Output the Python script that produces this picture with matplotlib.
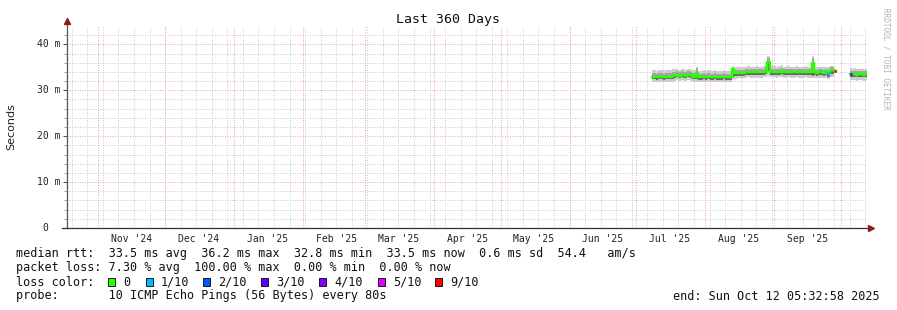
import matplotlib
matplotlib.use("Agg")
import matplotlib.pyplot as plt
import matplotlib.dates as mdates
import matplotlib.transforms as mtransforms
from matplotlib.patches import Rectangle
from matplotlib.lines import Line2D
import numpy as np
import pandas as pd

# ---------------- data (daily, starting 2025-07-08) ----------------
first_day = "2025-07-08"
median_ms = [
    # Jul 8-31
    33.0, 33.0, 32.9, 33.0, 33.0, 32.9, 33.0, 33.0, 33.0, 33.1, 33.3, 33.4, 33.2, 33.4, 33.3, 33.2,
    33.4, 33.3, 33.0, 33.0, 33.8, 32.9, 32.9, 33.0,
    # Aug
    32.9, 33.0, 32.9, 32.9, 33.0, 32.9, 32.9, 32.9, 33.0, 32.9, 32.9, 32.8, 34.6, 33.7, 33.7, 33.8,
    33.7, 33.8, 33.9, 34.0, 33.9, 33.9, 33.9, 34.0, 33.9, 33.9, 34.0, 34.3, 36.2, 34.0, 34.0,
    # Sep
    34.0, 33.9, 34.0, 34.2, 33.9, 33.9, 34.0, 33.9, 33.9, 33.9, 34.0, 33.9, 33.9, 33.9, 34.0, 33.9,
    33.9, 35.9, 33.9, 33.8, 33.9, 33.9, 33.8, 33.9, 33.8, 34.4, 34.4, 34.1, None, None,
    # Oct 1-12
    None, None, None, None, 33.6, 33.5, 33.6, 33.4, 33.5, 33.5, 33.4, 33.5,
]
smoke_max = [
    34.4, 34.4, 34.3, 34.4, 34.4, 34.3, 34.4, 34.4, 34.4, 34.6, 34.6, 34.7, 34.5, 34.7, 34.6, 34.5,
    34.7, 34.6, 34.4, 34.4, 35.1, 34.3, 34.3, 34.4,
    34.3, 34.4, 34.3, 34.3, 34.4, 34.3, 34.3, 34.3, 34.4, 34.3, 34.3, 34.3, 35.3, 35.0, 35.0, 35.1,
    35.0, 35.1, 35.1, 35.2, 35.1, 35.1, 35.1, 35.2, 35.1, 35.1, 35.2, 35.5, 37.4, 35.2, 35.2,
    35.2, 35.1, 35.2, 35.4, 35.1, 35.1, 35.2, 35.1, 35.1, 35.1, 35.2, 35.1, 35.1, 35.1, 35.2, 35.1,
    35.1, 37.5, 35.1, 35.0, 35.1, 35.1, 35.0, 35.1, 35.0, 35.2, 35.2, 35.0, None, None,
    None, None, None, None, 34.8, 34.7, 34.8, 34.6, 34.7, 34.7, 34.6, 34.7,
]
smoke_upper = [
    33.7, 33.7, 33.6, 33.7, 33.7, 33.6, 33.7, 33.7, 33.7, 33.9, 34.0, 34.1, 33.9, 34.1, 34.0, 33.9,
    34.1, 34.0, 33.7, 33.7, 34.9, 33.6, 33.6, 33.7,
    33.6, 33.7, 33.6, 33.6, 33.7, 33.6, 33.6, 33.6, 33.7, 33.6, 33.6, 33.6, 34.9, 34.4, 34.4, 34.5,
    34.4, 34.5, 34.6, 34.7, 34.6, 34.6, 34.6, 34.7, 34.6, 34.6, 34.7, 35.0, 37.0, 34.7, 34.7,
    34.7, 34.6, 34.7, 34.9, 34.6, 34.6, 34.7, 34.6, 34.6, 34.6, 34.7, 34.6, 34.6, 34.6, 34.7, 34.6,
    34.6, 37.0, 34.6, 34.5, 34.6, 34.6, 34.5, 34.6, 34.5, 35.0, 35.0, 34.8, None, None,
    None, None, None, None, 34.3, 34.2, 34.3, 34.1, 34.2, 34.2, 34.1, 34.2,
]
smoke_lower = [
    32.4, 32.4, 32.3, 32.4, 32.4, 32.3, 32.4, 32.4, 32.4, 32.5, 32.7, 32.8, 32.6, 32.8, 32.7, 32.6,
    32.8, 32.7, 32.4, 32.4, 32.4, 32.3, 32.3, 32.4,
    32.3, 32.4, 32.3, 32.3, 32.4, 32.3, 32.3, 32.3, 32.4, 32.3, 32.3, 32.3, 33.0, 33.1, 33.1, 33.2,
    33.1, 33.2, 33.3, 33.4, 33.3, 33.3, 33.3, 33.4, 33.3, 33.3, 33.4, 33.6, 34.2, 33.4, 33.4,
    33.4, 33.3, 33.4, 33.6, 33.3, 33.3, 33.4, 33.3, 33.3, 33.3, 33.4, 33.3, 33.3, 33.3, 33.4, 33.3,
    33.3, 33.2, 33.3, 33.2, 33.3, 33.3, 33.2, 33.3, 33.0, 33.6, 33.6, 33.4, None, None,
    None, None, None, None, 32.9, 32.9, 33.0, 32.8, 32.9, 32.9, 32.8, 32.9,
]
smoke_min = [
    31.8, 31.8, 31.7, 31.8, 31.8, 31.7, 31.8, 31.8, 31.8, 31.9, 32.1, 32.2, 32.0, 32.2, 32.1, 32.0,
    32.2, 32.1, 31.8, 31.8, 31.9, 31.7, 31.7, 31.8,
    31.7, 31.8, 31.7, 31.7, 31.8, 31.7, 31.7, 31.7, 31.8, 31.7, 31.7, 31.7, 32.5, 32.5, 32.5, 32.6,
    32.5, 32.6, 32.7, 32.8, 32.7, 32.7, 32.7, 32.8, 32.7, 32.7, 32.8, 32.9, 33.2, 32.8, 32.8,
    32.8, 32.7, 32.8, 33.0, 32.7, 32.7, 32.8, 32.7, 32.7, 32.7, 32.8, 32.7, 32.7, 32.7, 32.8, 32.7,
    32.7, 32.6, 32.7, 32.6, 32.7, 32.7, 32.6, 32.7, 32.4, 32.9, 32.9, 32.7, None, None,
    None, None, None, None, 32.2, 32.2, 32.3, 32.1, 32.2, 32.2, 32.1, 32.2,
]
loss_days = ["2025-09-25", "2025-09-28", "2025-10-05"]
loss_counts = [1, 9, 3]

loss_labels = ["0", "1/10", "2/10", "3/10", "4/10", "5/10", "9/10"]
loss_colors = ["#26ff00", "#00b8ff", "#0059ff", "#5e00ff", "#7e00ff", "#dd00ff", "#ff0000"]
loss_levels = [0, 1, 2, 3, 4, 5, 9]

y_ticks = [0, 10, 20, 30, 40]
y_tick_labels = ["0", "10 m", "20 m", "30 m", "40 m"]

x_start = "2024-10-17 20:00"
x_end = "2025-10-12 20:00"

title = "Last 360 Days"
legend_lines = [
    "median rtt:  33.5 ms avg  36.2 ms max  32.8 ms min  33.5 ms now  0.6 ms sd  54.4   am/s",
    "packet loss: 7.30 % avg  100.00 % max  0.00 % min  0.00 % now",
    "loss color:",
    "probe:       10 ICMP Echo Pings (56 Bytes) every 80s",
]
end_text = "end: Sun Oct 12 05:32:58 2025"

# ---------------- figure ----------------
W, H, DPI = 897, 310, 100
MONO = "DejaVu Sans Mono"
fig = plt.figure(figsize=(W / DPI, H / DPI), dpi=DPI, facecolor="white")
ax = fig.add_axes([67 / W, (H - 228) / H, 800 / W, 202 / H])
ax.set_facecolor("white")

x0 = mdates.date2num(pd.Timestamp(x_start))
x1 = mdates.date2num(pd.Timestamp(x_end))
ax.set_xlim(x0, x1)
ax.set_ylim(0, 44)

# grid (faint 1px dotted lines)
minor_col = "#cdcdcd"
major_col = "#f2a2a2"
ls = (0, (1, 1.5))
gkw = dict(lw=0.72, ls=ls)
for v in np.arange(2, 44, 2):
    if v % 10 == 0:
        continue
    ax.axhline(v, color=minor_col, zorder=0, **gkw)
sundays = pd.date_range(x_start, x_end, freq="W-SUN").normalize()
for d in sundays:
    ax.axvline(mdates.date2num(d), color=minor_col, zorder=0, **gkw)
for v in y_ticks[1:]:
    ax.axhline(v, color=major_col, zorder=0.5, **gkw)
months = pd.date_range("2024-11-01", x_end, freq="MS")
for d in months:
    ax.axvline(mdates.date2num(d), color=major_col, zorder=0.5, **gkw)

# data
days = pd.date_range(first_day, periods=len(median_ms), freq="D")
xd = mdates.date2num(days)
xe = np.append(xd, xd[-1] + 1)

def ext(a):
    arr = np.array([np.nan if v is None else v for v in a], dtype=float)
    return np.append(arr, arr[-1])

med = ext(median_ms)
smax = ext(smoke_max)
sup = ext(smoke_upper)
slo = ext(smoke_lower)
smin = ext(smoke_min)

ax.fill_between(xe, smin, smax, step="post", color="#cccccc", lw=0, zorder=2)
ax.fill_between(xe, med, sup, step="post", color="#a4a4a4", lw=0, zorder=3)
ax.fill_between(xe, slo, med, step="post", color="#686868", lw=0, zorder=3)
ax.step(xe, med, where="post", color=loss_colors[0], lw=1.7, zorder=4)
for dstr, cnt in zip(loss_days, loss_counts):
    d = mdates.date2num(pd.Timestamp(dstr))
    i = int(round(d - xd[0]))
    col = loss_colors[loss_levels.index(cnt)]
    ax.hlines(med[i], d, d + 1, color=col, lw=2.2, zorder=5)

# axes decoration
for s in ax.spines.values():
    s.set_visible(False)
ax.add_line(Line2D([0, 0], [0, 1.02], transform=ax.transAxes, color="#555555", lw=0.9, clip_on=False, zorder=6))
ax.add_line(Line2D([-5 / 800, 1.003], [0, 0], transform=ax.transAxes, color="#333333", lw=0.9, clip_on=False, zorder=6))
ax.plot([0], [1.025], marker="^", ms=4.5, color="#8b1a1a", transform=ax.transAxes, clip_on=False, zorder=7)
ax.plot([1.005], [0], marker=">", ms=4.5, color="#8b1a1a", transform=ax.transAxes, clip_on=False, zorder=7)

# y ticks
ax.set_yticks(y_ticks)
ax.set_yticklabels([])
ax.set_yticks(np.arange(2, 44, 2), minor=True)
ax.tick_params(axis="y", which="major", direction="out", length=3, width=0.8, color="#555555")
ax.tick_params(axis="y", which="minor", direction="out", length=2, width=0.6, color="#999999")
ytr = mtransforms.blended_transform_factory(fig.transFigure, ax.transData)
for v, lab in zip(y_ticks, y_tick_labels):
    xr = 60 if lab.endswith("m") else 48
    ax.text(xr / W, v, lab, transform=ytr, ha="right", va="center", fontsize=7, family=MONO, color="#222222")

# x labels at mid-month
lab_days = pd.date_range("2024-11-01", "2025-09-01", freq="MS") + pd.Timedelta(days=15)
ax.set_xticks(mdates.date2num(lab_days))
ax.set_xticklabels([d.strftime("%b '%y") for d in lab_days], fontsize=7, family=MONO, color="#222222")
ax.tick_params(axis="x", length=0, pad=4)

# texts
fig.text(448 / W, 1 - 19 / H, title, ha="center", va="center", fontsize=9.5, family=MONO, color="#111111")
fig.text(11 / W, 1 - 127 / H, "Seconds", rotation=90, ha="center", va="center", fontsize=8, family="DejaVu Sans", color="#222222")
fig.text(886 / W, 1 - 59 / H, "RRDTOOL / TOBI OETIKER", rotation=-90, ha="center", va="center", fontsize=5.5, family=MONO, color="#b4b4b4")

line_y = [254, 268, 282, 296]
for ln, yy in zip(legend_lines, line_y):
    fig.text(16 / W, 1 - yy / H, ln, ha="left", va="center", fontsize=8.5, family=MONO, color="#111111")
fig.text(880 / W, 1 - 296 / H, end_text, ha="right", va="center", fontsize=8.5, family=MONO, color="#111111")

box_x = [108, 146, 203, 261, 319, 378, 435]
for bx, lab, col in zip(box_x, loss_labels, loss_colors):
    fig.add_artist(Rectangle((bx / W, (H - 282 - 4) / H), 7 / W, 8 / H, transform=fig.transFigure,
                             facecolor=col, edgecolor="#000000", lw=0.6))
    fig.text((bx + 15) / W, 1 - 282 / H, lab, ha="left", va="center", fontsize=8.5, family=MONO, color="#111111")

fig.savefig("out.png", dpi=DPI, facecolor="white")
